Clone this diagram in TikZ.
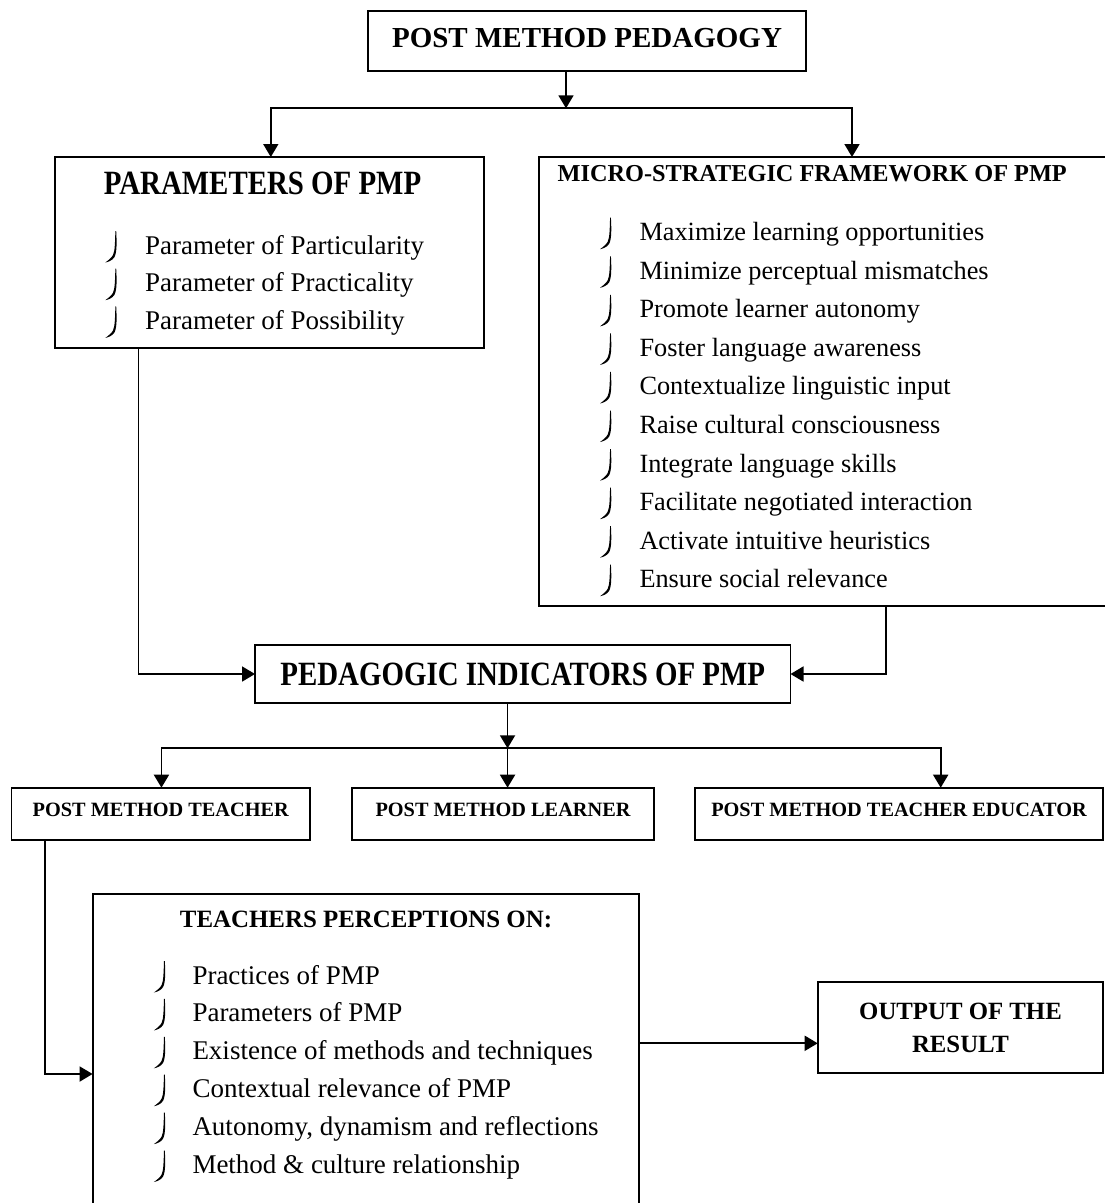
\documentclass[tikz,border=0pt]{standalone}
\usepackage{fontspec}
\setmainfont{Liberation Serif}
\newfontfamily\condfont{Liberation Serif}[FakeStretch=0.85]
\usepackage{tikz}
\usetikzlibrary{arrows.meta}
\tikzset{
  % Box styles
  framebox/.style={rectangle, draw=black, line width=1.8pt, inner sep=0pt, outer sep=0pt, anchor=north west},
  headbox/.style={framebox, align=center, font=\bfseries\fontsize{29}{34}\selectfont},
  smallbox/.style={framebox, font=\bfseries\fontsize{20.3}{24}\selectfont, text height=14pt, text depth=8pt},
  % Text styles
  bighead/.style={anchor=base, inner sep=0pt, font=\condfont\bfseries\fontsize{34}{38}\selectfont},
  midhead/.style={anchor=base, inner sep=0pt, font=\bfseries\fontsize{24.6}{32}\selectfont},
  listitem/.style={anchor=base west, inner sep=0pt, font=\fontsize{27}{32}\selectfont},
  % Bullet mark
  hookmark/.pic={\fill (11.2,-23) .. controls (11.8,-12) and (12,-2) .. (9.5,3) .. controls (7.5,6.5) and (3,8) .. (0.3,8.5)
    .. controls (3,6.5) and (6.5,4) .. (8,1) .. controls (10,-3) and (10,-12) .. (10.4,-23) -- cycle;},
  % Arrow styles
  arrow/.style={-{Triangle[length=13pt,width=15pt]}, line width=1.8pt}
}

\begin{document}
\begin{tikzpicture}[x=1pt, y=-1pt]
  \useasboundingbox (0,0) rectangle (1105,1203);

  % Top level
  \node[headbox, minimum width=438pt, minimum height=60pt, text height=20pt, text depth=7pt] (pmp) at (368,11) {POST METHOD PEDAGOGY};

  % Parameters box
  \node[framebox, minimum width=429pt, minimum height=191pt] (params) at (55,157) {};
  \node[bighead] (paramstitle) at (262.5,194) {PARAMETERS OF PMP};
  \foreach \txt [count=\i from 0] in {Parameter of Particularity, Parameter of Practicality, Parameter of Possibility} {
    \node[listitem] (param-\i) at (145,{254+37.7*\i}) {\txt};
    \pic at ([xshift=-40pt]param-\i.base west) {hookmark};
  }

  % Micro-strategic box (runs off the right edge)
  \node[framebox, minimum width=626pt, minimum height=449pt] (micro) at (539,157) {};
  \node[midhead, anchor=base west, font=\bfseries\fontsize{24.3}{30}\selectfont] (microtitle) at (557.5,181.7) {MICRO-STRATEGIC FRAMEWORK OF PMP};
  \foreach \txt [count=\i from 0] in {Maximize learning opportunities, Minimize perceptual mismatches, Promote learner autonomy, Foster language awareness, Contextualize linguistic input, Raise cultural consciousness, Integrate language skills, Facilitate negotiated interaction, Activate intuitive heuristics, Ensure social relevance} {
    \node[listitem, font=\fontsize{26.3}{32}\selectfont] (micro-\i) at (639.3,{240.7+38.56*\i}) {\txt};
    \pic at ([xshift=-39.6pt]micro-\i.base west) {hookmark};
  }

  % Indicators
  \node[headbox, font=\condfont\bfseries\fontsize{34}{38}\selectfont, minimum width=535.5pt, minimum height=58pt] (indicators) at (255,645) {PEDAGOGIC INDICATORS OF PMP};

  % Three post method roles
  \node[smallbox, minimum width=298.5pt, minimum height=52.3pt] (teacher) at (11.5,787.7) {POST METHOD TEACHER};
  \node[smallbox, minimum width=302pt, minimum height=52.3pt] (learner) at (352,787.7) {POST METHOD LEARNER};
  \node[smallbox, minimum width=408pt, minimum height=52.3pt] (educator) at (695,787.7) {POST METHOD TEACHER EDUCATOR};

  % Perceptions box (runs off the bottom edge)
  \node[framebox, minimum width=546pt, minimum height=360pt] (percept) at (92.6,894) {};
  \node[midhead, font=\bfseries\fontsize{24.9}{30}\selectfont] (percepttitle) at (366,927.3) {TEACHERS PERCEPTIONS ON:};
  \foreach \txt [count=\i from 0] in {Practices of PMP, Parameters of PMP, Existence of methods and techniques, Contextual relevance of PMP, {Autonomy, dynamism and reflections}, Method \& culture relationship} {
    \node[listitem] (percept-\i) at (192.3,{984+37.9*\i}) {\txt};
    \pic at ([xshift=-38.7pt]percept-\i.base west) {hookmark};
  }

  % Result
  \node[framebox, align=center, font=\bfseries\fontsize{24.8}{32.3}\selectfont, minimum width=285.6pt, minimum height=91pt] (output) at (817.7,982.3) {OUTPUT OF THE\\RESULT};

  % Arrows
  \coordinate (split1) at ([xshift=-21pt, yshift=-37.3pt]pmp.south);
  \coordinate (split2) at ([xshift=-15.2pt, yshift=-45.3pt]indicators.south);
  \draw[arrow] (split1 |- pmp.south) -- (split1);
  \draw[arrow] (split1) -| ([xshift=1.3pt]params.north);
  \draw[arrow] (split1) -| (micro.north);
  \draw[arrow] ([xshift=-131pt]params.south) |- (indicators.west);
  \draw[arrow] ([xshift=34pt]micro.south) |- (indicators.east);
  \draw[arrow] (split2 |- indicators.south) -- (split2);
  \draw[arrow] (split2) -| ([xshift=0.7pt]teacher.north);
  \draw[arrow] (split2) -- (split2 |- learner.north);
  \draw[arrow] (split2) -| ([xshift=41.7pt]educator.north);
  \draw[arrow] ([xshift=-115.75pt]teacher.south) |- (percept.west);
  \draw[arrow] ([yshift=-15.5pt]output.west -| percept.east) -- ([yshift=-15.5pt]output.west);
\end{tikzpicture}
\end{document}
